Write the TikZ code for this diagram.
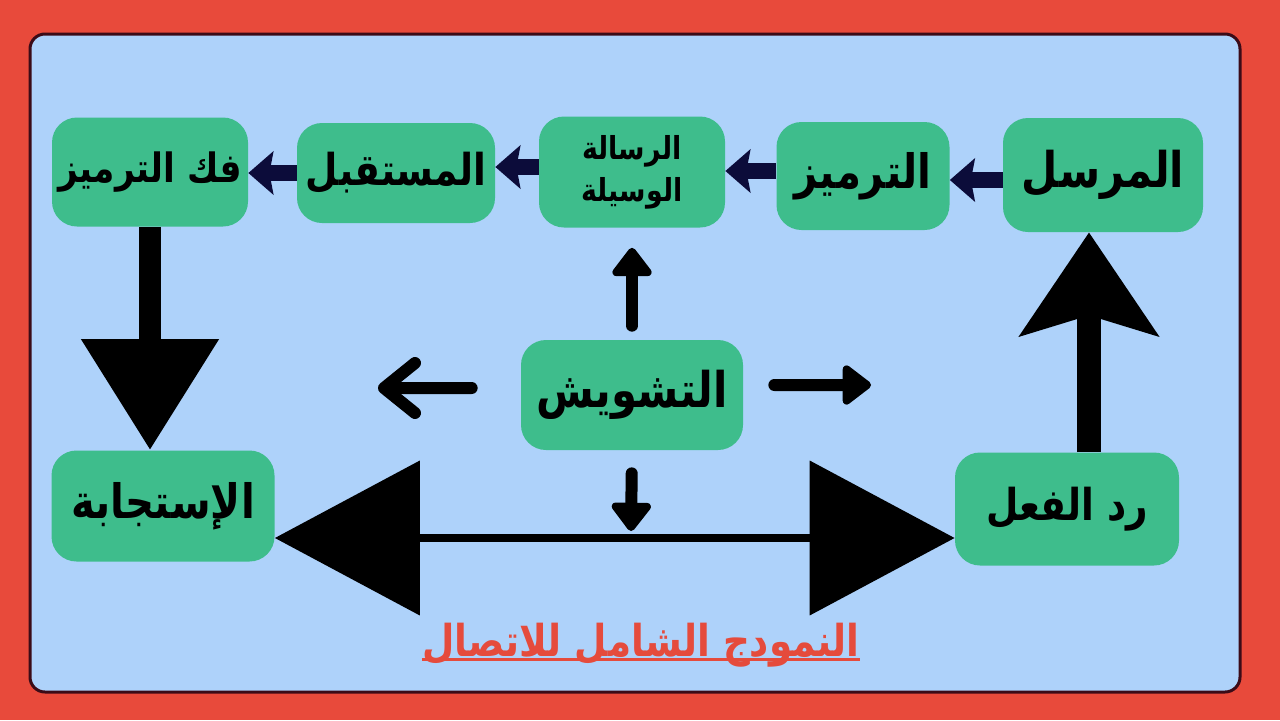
\documentclass[tikz,border=0pt]{standalone}
\usepackage{fontspec}
\newfontfamily\arabicfont[Script=Arabic,FakeStretch=0.85]{DejaVu Sans}
\TeXXeTstate=1
\usetikzlibrary{arrows.meta}

\definecolor{bgred}{HTML}{E84A3B}
\definecolor{panelblue}{HTML}{AED2FA}
\definecolor{boxgreen}{HTML}{3EBD8C}
\definecolor{navy}{HTML}{0C0C3A}
\definecolor{rim}{HTML}{3B0B17}
\definecolor{titlered}{HTML}{E54B3C}

\newcommand*{\artext}[1]{{\arabicfont\bfseries\beginR #1\endR}}

\begin{document}
\begin{tikzpicture}
[
	x=0.02cm, y=-0.02cm,
	box/.style 2 args={fill=boxgreen,rounded corners=0.5cm,inner sep=0pt,align=center,
		minimum width=#1*0.02cm,minimum height=#2*0.02cm},
	fs/.style 2 args={font=\fontsize{#1}{#2}\selectfont},
	flow/.style={navy,line width=0.32cm,-{Stealth[length=0.5cm,width=0.86cm,inset=0.08cm]}},
	noise/.style={line width=0.24cm,line cap=round},
	noisetip/.style={-{Triangle[round,length=0.62cm,width=0.9cm]}}
]

	% background and panel
	\fill[bgred] (0,0) rectangle (1280,720);
	\filldraw[fill=panelblue,draw=rim,line width=0.06cm,rounded corners=0.3cm] (30,34) rectangle (1240,692);

	% top row
	\node[box={200}{114},fs={28}{34}] (mursil) at (1103,175) {\artext{المرسل}};
	\node[box={173}{108},fs={27}{32}] (tarmiz) at (863,176) {\artext{الترميز}};
	\node[box={186}{111},fs={18}{24}] (risala) at (632,172) {\artext{الرسالة}\\\artext{الوسيلة}};
	\node[box={198}{100},fs={25}{30}] (mustaqbil) at (396,173) {\artext{المستقبل}};
	\node[box={196}{109},fs={23}{28}] (fakk) at (150,172) {\artext{فك الترميز}};

	% middle and bottom
	\node[box={222}{110},fs={28}{34}] (tashwish) at (632,395) {\artext{التشويش}};
	\node[box={223}{111},fs={27}{32}] (istijaba) at (163,506) {\artext{الإستجابة}};
	\node[box={224}{113},fs={25}{30}] (radd) at (1067,509) {\artext{رد الفعل}};

	% title
	\node[text=titlered,fs={25}{30},inner sep=0pt] (title) at (641,645) {\artext{النمودج الشامل للاتصال}};
	\draw[titlered,line width=0.06cm] ([yshift=-0.06cm]title.base west) -- ([yshift=-0.06cm]title.base east);

	% message flow
	\draw[flow] ([yshift=-0.1cm]mursil.west) -- ([yshift=-0.1cm]mursil.west -| tarmiz.east);
	\draw[flow] ([yshift=0.1cm]tarmiz.west) -- ([yshift=0.1cm]tarmiz.west -| risala.east);
	\draw[flow] ([yshift=0.1cm]risala.west) -- ([yshift=0.1cm]risala.west -| mustaqbil.east);
	\draw[flow] (mustaqbil.west) -- (mustaqbil.west -| fakk.east);

	% big arrows
	\draw[line width=0.44cm,-{Triangle[length=2.22cm,width=2.64cm]}]
		(fakk.south) -- (fakk.south |- istijaba.north);
	\draw[line width=0.48cm,-{Stealth[length=2.06cm,width=2.74cm,inset=0.4cm]}]
		([xshift=0.44cm]radd.north) -- ([xshift=0.44cm]radd.north |- mursil.south);
	\draw[line width=0.16cm,{Triangle[length=2.9cm,width=3.06cm]}-{Triangle[length=2.9cm,width=3.06cm]}]
		([yshift=-0.64cm]istijaba.east) -- ([yshift=-0.64cm]istijaba.east -| radd.west);

	% noise
	\coordinate (noiseL) at (378,388);
	\coordinate (noiseR) at (871,385);
	\coordinate (noiseD) at (631,531);
	\draw[noise,noisetip,shorten <=0.28cm,shorten >=0.4cm] (tashwish.north) -- (risala.south);
	\draw[noise,-{Straight Barb[round,length=0.62cm,width=1.0cm]},shorten <=0.98cm] ([yshift=0.14cm]tashwish.west) -- (noiseL);
	\draw[noise,noisetip,shorten <=0.62cm] ([yshift=0.2cm]tashwish.east) -- (noiseR);
	\draw[noise,noisetip,shorten <=0.46cm] (tashwish.south) -- (noiseD);

\end{tikzpicture}
\end{document}
